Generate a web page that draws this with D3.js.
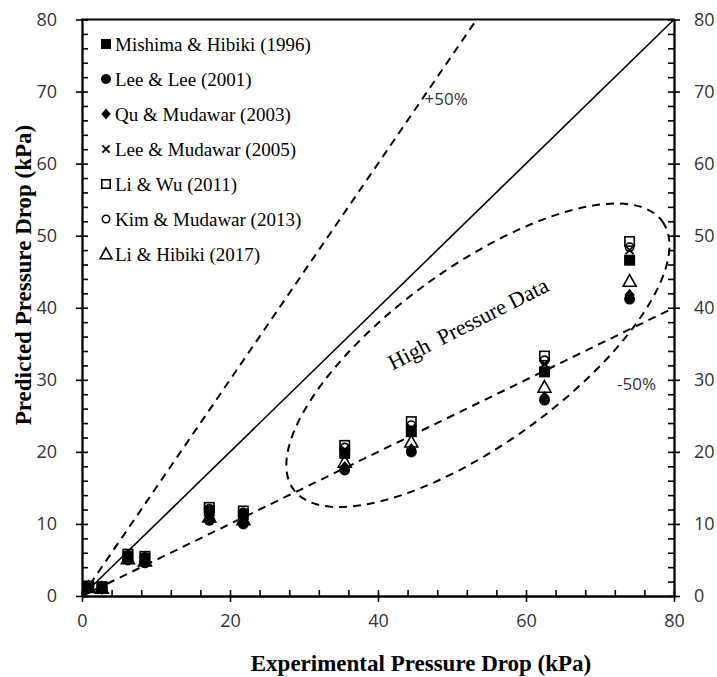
<!DOCTYPE html>
<html>
<head>
<meta charset="utf-8">
<script src="https://cdn.jsdelivr.net/npm/d3@7"></script>
<style>
  body { margin: 0; background: #fff; }
  svg { display: block; }
</style>
</head>
<body>
<svg id="chart" width="717" height="677"></svg>
<script>
// Experimental pressure drop (kPa), shared by every correlation
const experimental = [0.9, 2.7, 6.2, 8.5, 17.2, 21.8, 35.5, 44.5, 62.5, 74.0];

// Predicted pressure drop (kPa) for each correlation
const mishimaHibiki = [1.3, 1.2, 5.5, 5.2, 11.8, 11.3, 19.8, 22.8, 31.1, 46.6];
const leeLee        = [1.1, 1.0, 5.0, 4.6, 10.5, 10.0, 17.5, 20.0, 27.2, 41.2];
const quMudawar     = [1.1, 1.0, 5.1, 4.7, 10.7, 10.2, 17.9, 20.4, 27.6, 41.8];
const leeMudawar    = [1.3, 1.2, 5.6, 5.3, 12.0, 11.5, 20.3, 23.3, 32.2, 48.0];
const liWu          = [1.4, 1.3, 5.8, 5.5, 12.3, 11.8, 20.9, 24.2, 33.3, 49.2];
const kimMudawar    = [1.3, 1.2, 5.7, 5.4, 12.1, 11.6, 20.6, 23.7, 32.7, 48.4];
const liHibiki      = [1.2, 1.1, 5.2, 4.9, 11.0, 10.6, 18.6, 21.4, 29.0, 43.7];

const seriesNames = [
  "Mishima & Hibiki (1996)", "Lee & Lee (2001)", "Qu & Mudawar (2003)",
  "Lee & Mudawar (2005)", "Li & Wu (2011)", "Kim & Mudawar (2013)", "Li & Hibiki (2017)"
];
const seriesValues = [mishimaHibiki, leeLee, quMudawar, leeMudawar, liWu, kimMudawar, liHibiki];
const seriesMarkers = ["square", "circle", "diamond", "cross", "squareOpen", "circleOpen", "triangleOpen"];

// Axis ticks
const yMajorTicks = [0, 10, 20, 30, 40, 50, 60, 70, 80];
const xMajorTicks = [0, 20, 40, 60, 80];

// Reference lines: predicted = factor * experimental
const refFactors = [1.0, 1.5, 0.5];
const refLabels = [
  { text: "+50%", x: 46.3, y: 68.2 },
  { text: "-50%", x: 72.3, y: 28.6 }
];

const svg = d3.select("#chart");
const W = 717, H = 677;
const x = d3.scaleLinear().domain([0, 80]).range([82, 674]);
const y = d3.scaleLinear().domain([0, 80]).range([596, 19.5]);

const tickFont = "'Open Sans', 'DejaVu Sans', sans-serif";
const serif = "'Liberation Serif', 'Times New Roman', serif";
const labelGrey = "#333";

svg.append("rect").attr("width", W).attr("height", H).attr("fill", "#fff");

// ---- axes ----
function styleAxis(g) {
  g.selectAll(".domain").attr("stroke", "#000").attr("stroke-width", 1.8);
  g.selectAll(".tick line").attr("stroke", "#000").attr("stroke-width", 1.6);
  g.selectAll(".tick text").attr("font-family", tickFont).attr("font-size", 18).attr("fill", labelGrey);
}

// left axis: labels + outer half of major ticks
const leftOuter = svg.append("g").attr("transform", `translate(${x(0)},0)`)
  .call(d3.axisLeft(y).tickValues(yMajorTicks).tickSize(6).tickPadding(19).tickSizeOuter(0));
styleAxis(leftOuter);
// left axis: inner ticks (major and minor every 2)
const leftInner = svg.append("g").attr("transform", `translate(${x(0)},0)`)
  .call(d3.axisRight(y).tickValues(d3.range(0, 81, 2)).tickSize(6).tickFormat("").tickSizeOuter(0));
styleAxis(leftInner);

// right axis
const rightOuter = svg.append("g").attr("transform", `translate(${x(80)},0)`)
  .call(d3.axisRight(y).tickValues(yMajorTicks).tickSize(6).tickPadding(14).tickSizeOuter(0));
styleAxis(rightOuter);
rightOuter.selectAll(".tick text").attr("text-anchor", "start");
const rightInner = svg.append("g").attr("transform", `translate(${x(80)},0)`)
  .call(d3.axisLeft(y).tickValues(d3.range(0, 81, 2)).tickSize(6).tickFormat("").tickSizeOuter(0));
styleAxis(rightInner);

// bottom axis
const bottomOuter = svg.append("g").attr("transform", `translate(0,${y(0)})`)
  .call(d3.axisBottom(x).tickValues(xMajorTicks).tickSize(6).tickPadding(12).tickSizeOuter(0));
styleAxis(bottomOuter);
const bottomInner = svg.append("g").attr("transform", `translate(0,${y(0)})`)
  .call(d3.axisTop(x).tickValues(d3.range(0, 81, 4)).tickSize(6).tickFormat("").tickSizeOuter(0));
styleAxis(bottomInner);

// top frame line
svg.append("line")
  .attr("x1", x(0) - 1).attr("x2", x(80) + 1)
  .attr("y1", y(80)).attr("y2", y(80))
  .attr("stroke", "#000").attr("stroke-width", 1.8);

// ---- axis titles ----
svg.append("text")
  .attr("x", 421).attr("y", 671)
  .attr("text-anchor", "middle")
  .attr("font-family", serif).attr("font-weight", "bold").attr("font-size", 23)
  .text("Experimental Pressure Drop (kPa)");

svg.append("text")
  .attr("transform", "translate(31,275) rotate(-90)")
  .attr("text-anchor", "middle")
  .attr("font-family", serif).attr("font-weight", "bold").attr("font-size", 23)
  .text("Predicted Pressure Drop (kPa)");

// ---- reference lines ----
const plot = svg.append("g");
refFactors.forEach(f => {
  const xEnd = Math.min(80, 80 / f);
  plot.append("line")
    .attr("x1", x(0)).attr("y1", y(0))
    .attr("x2", x(xEnd)).attr("y2", y(xEnd * f))
    .attr("stroke", "#000")
    .attr("stroke-width", f === 1 ? 1.6 : 2)
    .attr("stroke-dasharray", f === 1 ? null : "8,6");
});

refLabels.forEach(l => {
  plot.append("text")
    .attr("x", x(l.x)).attr("y", y(l.y))
    .attr("font-family", tickFont).attr("font-size", 17).attr("fill", labelGrey)
    .text(l.text);
});

// high pressure region outline
const hpCenter = { x: 53.5, y: 33.4 };
const hp = plot.append("g")
  .attr("transform", `translate(${x(hpCenter.x)},${y(hpCenter.y)}) rotate(-36)`);
hp.append("ellipse")
  .attr("rx", 228).attr("ry", 88)
  .attr("fill", "none").attr("stroke", "#000")
  .attr("stroke-width", 2).attr("stroke-dasharray", "8,6");
plot.append("text")
  .attr("transform", `translate(${x(42.0)},${y(31.3)}) rotate(-27)`)
  .attr("font-family", serif).attr("font-size", 22)
  .attr("xml:space", "preserve")
  .style("white-space", "pre")
  .text("High  Pressure Data");

// ---- markers ----
function drawMarker(g, type, s) {
  const h = s / 2;
  switch (type) {
    case "square":
      g.append("rect").attr("x", -h).attr("y", -h).attr("width", s).attr("height", s).attr("fill", "#000");
      break;
    case "circle":
      g.append("circle").attr("r", h).attr("fill", "#000");
      break;
    case "diamond":
      g.append("path").attr("d", `M0,${-h}L${h * 0.85},0L0,${h}L${-h * 0.85},0Z`).attr("fill", "#000");
      break;
    case "cross": {
      const c = h * 0.8;
      g.append("path").attr("d", `M${-c},${-c}L${c},${c}M${-c},${c}L${c},${-c}`)
        .attr("stroke", "#000").attr("stroke-width", 2).attr("fill", "none");
      break;
    }
    case "squareOpen":
      g.append("rect").attr("x", -h + 0.8).attr("y", -h + 0.8).attr("width", s - 1.6).attr("height", s - 1.6)
        .attr("fill", "none").attr("stroke", "#000").attr("stroke-width", 1.6);
      break;
    case "circleOpen":
      g.append("circle").attr("r", h - 0.8).attr("fill", "none").attr("stroke", "#000").attr("stroke-width", 1.6);
      break;
    case "triangleOpen": {
      const t = h + 0.5;
      g.append("path").attr("d", `M0,${-t}L${t},${t * 0.8}L${-t},${t * 0.8}Z`)
        .attr("fill", "none").attr("stroke", "#000").attr("stroke-width", 1.6);
      break;
    }
  }
}

const dataSizes = { square: 11, circle: 11, diamond: 12, cross: 10, squareOpen: 11, circleOpen: 10, triangleOpen: 12 };
seriesValues.forEach((vals, i) => {
  const type = seriesMarkers[i];
  const g = plot.append("g");
  vals.forEach((v, j) => {
    const m = g.append("g").attr("transform", `translate(${x(experimental[j])},${y(v)})`);
    drawMarker(m, type, dataSizes[type]);
  });
});

// ---- legend ----
const legend = svg.append("g").attr("transform", "translate(106,44)");
seriesNames.forEach((name, i) => {
  const row = legend.append("g").attr("transform", `translate(0,${i * 35})`);
  drawMarker(row, seriesMarkers[i], dataSizes[seriesMarkers[i]] - 1);
  row.append("text")
    .attr("x", 9).attr("y", 6.5)
    .attr("font-family", serif).attr("font-size", 19)
    .text(name);
});
</script>
</body>
</html>
